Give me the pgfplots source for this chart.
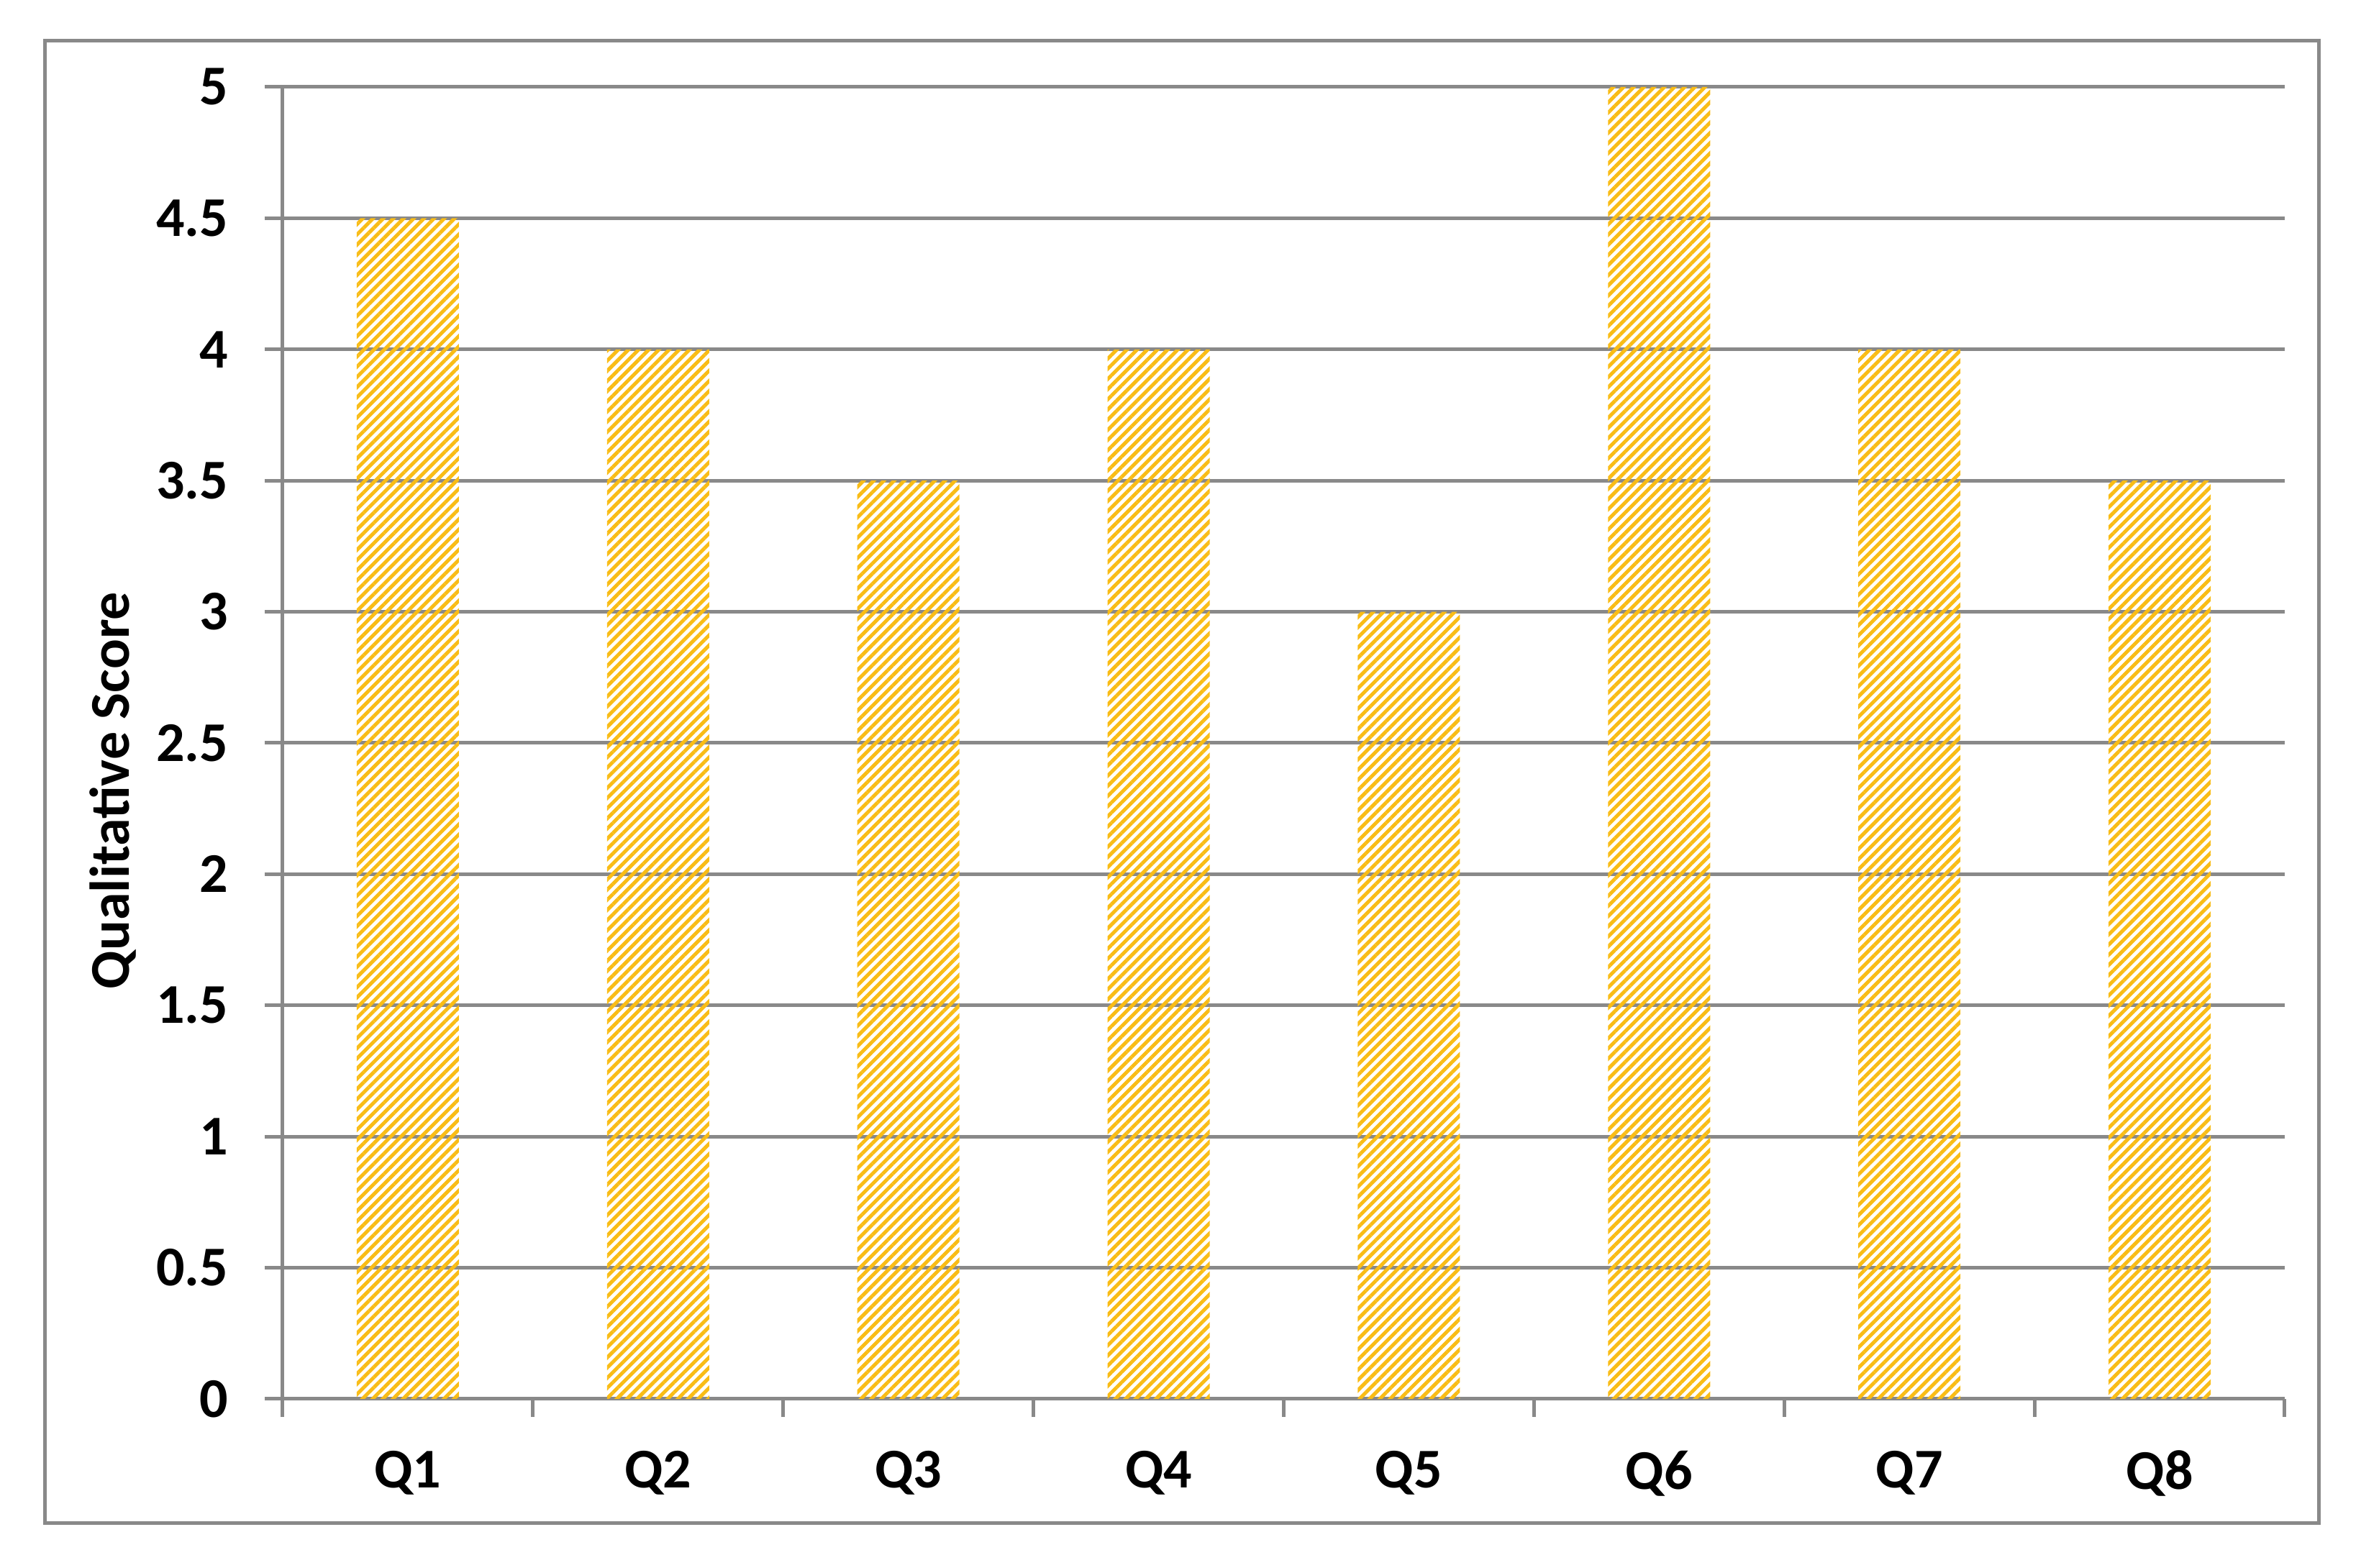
\documentclass[border=0pt]{standalone}
\usepackage{fontspec}
\setmainfont{Carlito}
\usepackage{pgfplots}
\pgfplotsset{compat=1.18}
\usetikzlibrary{patterns.meta}
\definecolor{gridgray}{RGB}{137,137,137}
\definecolor{baryellow}{RGB}{249,188,22}
\newcommand{\lblfont}{\fontsize{15.6}{18}\selectfont\bfseries}
\begin{document}
\begin{tikzpicture}
\useasboundingbox (-78.6pt,-47pt) rectangle (577.8pt,389pt);
\begin{axis}[
  at={(0pt,0pt)}, anchor=south west,
  width=556.6pt, height=364.8pt, scale only axis,
  xmin=-0.5, xmax=7.5, ymin=0, ymax=5,
  axis x line*=bottom, axis y line*=left,
  axis line style={gridgray, line width=1pt, -},
  ytick={0,0.5,...,5},
  ymajorgrids, grid style={gridgray, line width=1pt},
  xtick={-0.5,0.5,...,7.5}, xticklabels={},
  extra x ticks={0,1,2,3,4,5,6,7},
  extra x tick labels={Q1,Q2,Q3,Q4,Q5,Q6,Q7,Q8},
  extra x tick style={major tick length=0pt,
    xticklabel style={anchor=north, yshift=-14.2pt}},
  tick align=outside,
  major tick length=5pt,
  tick style={gridgray, line width=1pt},
  /pgf/number format/assume math mode=true,
  ticklabel style={font=\lblfont, inner sep=0pt},
  yticklabel style={anchor=east, xshift=-10pt},
  clip=false,
]
\addplot[ybar, bar width=28.4pt, draw=none,
  pattern={Lines[angle=45,distance=2pt,line width=1pt]}, pattern color=baryellow]
  coordinates {(0,4.5) (1,4) (2,3.5) (3,4) (4,3) (5,5) (6,4) (7,3.5)};
\end{axis}
\draw[gridgray, line width=1pt] (-66pt,-34.6pt) rectangle (566pt,377.6pt);
\node[rotate=90, font=\lblfont, inner sep=0pt] at (-47.2pt,169.2pt) {Qualitative Score};
\end{tikzpicture}
\end{document}
